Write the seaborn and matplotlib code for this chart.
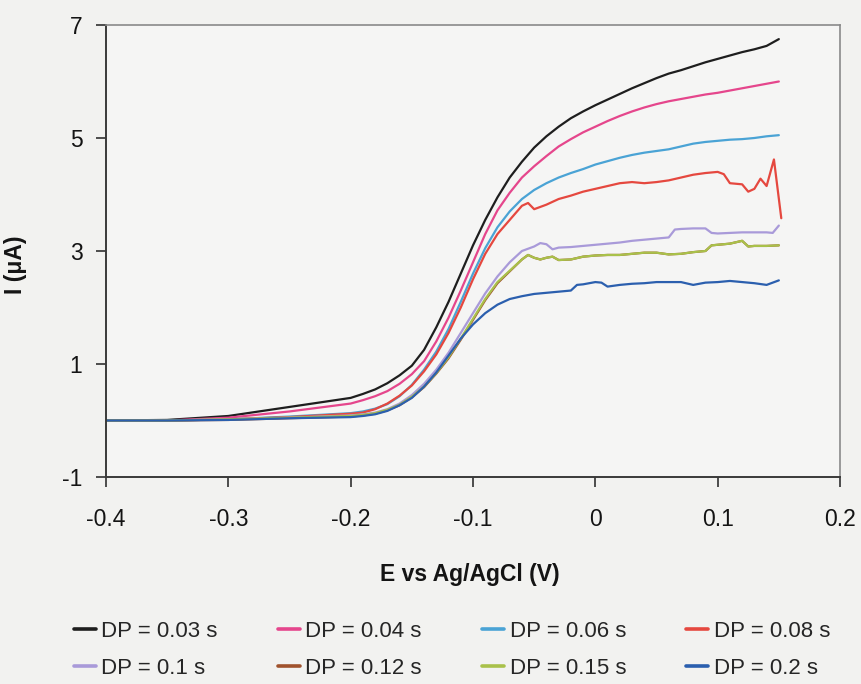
import matplotlib
matplotlib.use("Agg")
import matplotlib.pyplot as plt
import seaborn as sns
import pandas as pd

# ---------------- data ----------------
labels = ["DP = 0.03 s", "DP = 0.04 s", "DP = 0.06 s", "DP = 0.08 s",
          "DP = 0.1 s", "DP = 0.12 s", "DP = 0.15 s", "DP = 0.2 s"]

E_base = [-0.40, -0.35, -0.30, -0.25, -0.20, -0.19, -0.18, -0.17, -0.16, -0.15,
          -0.14, -0.13, -0.12, -0.11, -0.10, -0.09, -0.08, -0.07, -0.06, -0.05,
          -0.04, -0.03, -0.02, -0.01, 0.00, 0.01, 0.02, 0.03, 0.04, 0.05,
          0.06, 0.07, 0.08, 0.09, 0.10, 0.11, 0.12, 0.13, 0.14, 0.15]

I_003 = [0.00, 0.01, 0.08, 0.24, 0.40, 0.47, 0.55, 0.66, 0.80, 0.97,
         1.25, 1.65, 2.10, 2.60, 3.10, 3.55, 3.95, 4.30, 4.58, 4.83,
         5.03, 5.20, 5.35, 5.47, 5.58, 5.68, 5.78, 5.88, 5.97, 6.06,
         6.14, 6.20, 6.27, 6.34, 6.40, 6.46, 6.52, 6.57, 6.63, 6.75]

I_004 = [0.00, 0.00, 0.05, 0.16, 0.30, 0.36, 0.43, 0.52, 0.65, 0.82,
         1.05, 1.40, 1.82, 2.30, 2.80, 3.30, 3.72, 4.03, 4.30, 4.50,
         4.68, 4.85, 4.98, 5.10, 5.20, 5.30, 5.39, 5.47, 5.54, 5.60,
         5.65, 5.69, 5.73, 5.77, 5.80, 5.84, 5.88, 5.92, 5.96, 6.00]

I_006 = [0.00, 0.00, 0.02, 0.07, 0.13, 0.16, 0.21, 0.29, 0.43, 0.63,
         0.90, 1.22, 1.62, 2.10, 2.60, 3.05, 3.42, 3.70, 3.92, 4.08,
         4.20, 4.30, 4.38, 4.45, 4.53, 4.59, 4.65, 4.70, 4.74, 4.77,
         4.80, 4.85, 4.90, 4.93, 4.95, 4.97, 4.98, 5.00, 5.03, 5.05]

E_008 = [-0.40, -0.35, -0.30, -0.25, -0.20, -0.19, -0.18, -0.17, -0.16, -0.15,
         -0.14, -0.13, -0.12, -0.11, -0.10, -0.09, -0.08, -0.07, -0.06, -0.055,
         -0.05, -0.04, -0.03, -0.02, -0.01, 0.00, 0.01, 0.02, 0.03, 0.04,
         0.05, 0.06, 0.07, 0.08, 0.09, 0.10, 0.105, 0.11, 0.12, 0.125,
         0.13, 0.135, 0.14, 0.146, 0.152]
I_008 = [0.00, 0.00, 0.02, 0.06, 0.12, 0.14, 0.20, 0.30, 0.44, 0.62,
         0.87, 1.17, 1.55, 2.00, 2.50, 2.95, 3.30, 3.55, 3.80, 3.85,
         3.74, 3.82, 3.92, 3.98, 4.05, 4.10, 4.15, 4.20, 4.22, 4.20,
         4.22, 4.25, 4.30, 4.35, 4.38, 4.40, 4.36, 4.20, 4.18, 4.05,
         4.10, 4.28, 4.15, 4.62, 3.58]

E_010 = [-0.40, -0.35, -0.30, -0.25, -0.20, -0.19, -0.18, -0.17, -0.16, -0.15,
         -0.14, -0.13, -0.12, -0.11, -0.10, -0.09, -0.08, -0.07, -0.06, -0.05,
         -0.045, -0.04, -0.035, -0.03, -0.02, -0.01, 0.00, 0.01, 0.02, 0.03,
         0.04, 0.05, 0.06, 0.065, 0.07, 0.08, 0.09, 0.095, 0.10, 0.11,
         0.12, 0.13, 0.14, 0.145, 0.15]
I_010 = [0.00, 0.00, 0.02, 0.05, 0.09, 0.11, 0.14, 0.20, 0.30, 0.45,
         0.65, 0.90, 1.20, 1.55, 1.90, 2.25, 2.55, 2.80, 3.00, 3.08,
         3.14, 3.12, 3.03, 3.06, 3.07, 3.09, 3.11, 3.13, 3.15, 3.18,
         3.20, 3.22, 3.24, 3.38, 3.39, 3.40, 3.40, 3.32, 3.31, 3.32,
         3.33, 3.33, 3.33, 3.32, 3.45]

E_015 = [-0.40, -0.35, -0.30, -0.25, -0.20, -0.19, -0.18, -0.17, -0.16, -0.15,
         -0.14, -0.13, -0.12, -0.11, -0.10, -0.09, -0.08, -0.07, -0.06, -0.055,
         -0.05, -0.045, -0.04, -0.035, -0.03, -0.02, -0.01, 0.00, 0.01, 0.02,
         0.03, 0.04, 0.05, 0.06, 0.07, 0.08, 0.09, 0.095, 0.10, 0.11,
         0.12, 0.125, 0.13, 0.14, 0.15]
I_012 = [0.00, 0.00, 0.01, 0.04, 0.07, 0.09, 0.12, 0.18, 0.27, 0.41,
         0.59, 0.83, 1.10, 1.43, 1.78, 2.13, 2.43, 2.64, 2.85, 2.93,
         2.88, 2.85, 2.88, 2.90, 2.84, 2.85, 2.90, 2.92, 2.93, 2.93,
         2.95, 2.97, 2.97, 2.94, 2.95, 2.98, 3.00, 3.10, 3.11, 3.13,
         3.18, 3.08, 3.09, 3.09, 3.10]
I_015 = [0.00, 0.00, 0.02, 0.05, 0.08, 0.10, 0.13, 0.19, 0.28, 0.42,
         0.60, 0.84, 1.12, 1.45, 1.80, 2.15, 2.45, 2.65, 2.85, 2.93,
         2.88, 2.85, 2.88, 2.90, 2.84, 2.85, 2.90, 2.92, 2.93, 2.93,
         2.95, 2.97, 2.97, 2.94, 2.95, 2.98, 3.00, 3.10, 3.11, 3.13,
         3.18, 3.08, 3.09, 3.09, 3.10]

E_020 = [-0.40, -0.35, -0.30, -0.25, -0.20, -0.19, -0.18, -0.17, -0.16, -0.15,
         -0.14, -0.13, -0.12, -0.11, -0.10, -0.09, -0.08, -0.07, -0.06, -0.05,
         -0.04, -0.03, -0.02, -0.015, -0.01, 0.00, 0.005, 0.01, 0.02, 0.03,
         0.04, 0.05, 0.06, 0.07, 0.08, 0.09, 0.10, 0.11, 0.12, 0.13,
         0.14, 0.15]
I_020 = [0.00, 0.00, 0.01, 0.04, 0.06, 0.08, 0.11, 0.17, 0.27, 0.40,
         0.60, 0.85, 1.15, 1.45, 1.70, 1.90, 2.05, 2.15, 2.20, 2.24,
         2.26, 2.28, 2.30, 2.40, 2.41, 2.45, 2.44, 2.37, 2.40, 2.42,
         2.43, 2.45, 2.45, 2.45, 2.40, 2.44, 2.45, 2.47, 2.45, 2.43,
         2.40, 2.48]

series_E = [E_base, E_base, E_base, E_008, E_010, E_015, E_015, E_020]
series_I = [I_003, I_004, I_006, I_008, I_010, I_012, I_015, I_020]
colors = ["#1e1e1e", "#e5468c", "#4aa3d5", "#e5483f",
          "#a99ad9", "#a0522d", "#a9c14a", "#2b5fae"]

x_ticks = [-0.4, -0.3, -0.2, -0.1, 0, 0.1, 0.2]
x_ticklabels = ["-0.4", "-0.3", "-0.2", "-0.1", "0", "0.1", "0.2"]
y_ticks = [-1, 1, 3, 5, 7]
y_ticklabels = ["-1", "1", "3", "5", "7"]

rows = []
for lab, es, is_ in zip(labels, series_E, series_I):
    for e, i in zip(es, is_):
        rows.append({"E": e, "I": i, "DP": lab})
df = pd.DataFrame(rows)

# ---------------- styling ----------------
sns.set_style("ticks")
plt.rcParams["font.family"] = ["Liberation Sans", "DejaVu Sans"]
plt.rcParams["axes.unicode_minus"] = False

bg = "#f2f2f0"
fig = plt.figure(figsize=(8.62, 6.84), dpi=100, facecolor=bg)
ax = fig.add_axes([106 / 862, 1 - 477 / 684, (840 - 106) / 862, (477 - 25) / 684])
ax.set_facecolor("#f5f5f4")

sns.lineplot(data=df, x="E", y="I", hue="DP", hue_order=labels,
             palette=dict(zip(labels, colors)), sort=False, estimator=None,
             linewidth=1.6, ax=ax, legend=True)

ax.set_xlim(-0.4, 0.2)
ax.set_ylim(-1, 7)
ax.set_xticks(x_ticks)
ax.set_xticklabels(x_ticklabels)
ax.set_yticks(y_ticks)
ax.set_yticklabels(y_ticklabels)
ax.tick_params(axis="both", direction="out", length=7, width=1.2,
               colors="#303030", labelsize=16.5, labelcolor="#141414")
ax.tick_params(axis="x", pad=15)
ax.tick_params(axis="y", pad=10)

for side in ["left", "bottom"]:
    ax.spines[side].set_color("#3a3a3a")
    ax.spines[side].set_linewidth(1.4)
for side in ["top", "right"]:
    ax.spines[side].set_visible(True)
    ax.spines[side].set_color("#8a8a8a")
    ax.spines[side].set_linewidth(1.2)

ax.set_xlabel("E vs Ag/AgCl (V)", fontsize=16.5, fontweight="bold", color="#141414")
ax.set_ylabel("I (\u03bcA)", fontsize=16.5, fontweight="bold", color="#141414")
ax.xaxis.set_label_coords((470 - 106) / 734, (477 - 563) / 452)
ax.yaxis.set_label_coords((27 - 106) / 734, (477 - 265) / 452)

# legend: row-wise order in 4 columns
handles, labs = ax.get_legend_handles_labels()
order = [0, 4, 1, 5, 2, 6, 3, 7]
leg = ax.legend([handles[k] for k in order], [labs[k] for k in order],
                ncol=4, frameon=False, loc="center",
                bbox_to_anchor=((452 - 106) / 734, (477 - 650) / 452),
                handlelength=1.0, handletextpad=0.25, columnspacing=2.7,
                labelspacing=0.7,
                prop={"family": "Liberation Sans", "size": 16})
for h in leg.get_lines():
    h.set_linewidth(2.6)

fig.savefig("out.png", dpi=100, facecolor=bg)
